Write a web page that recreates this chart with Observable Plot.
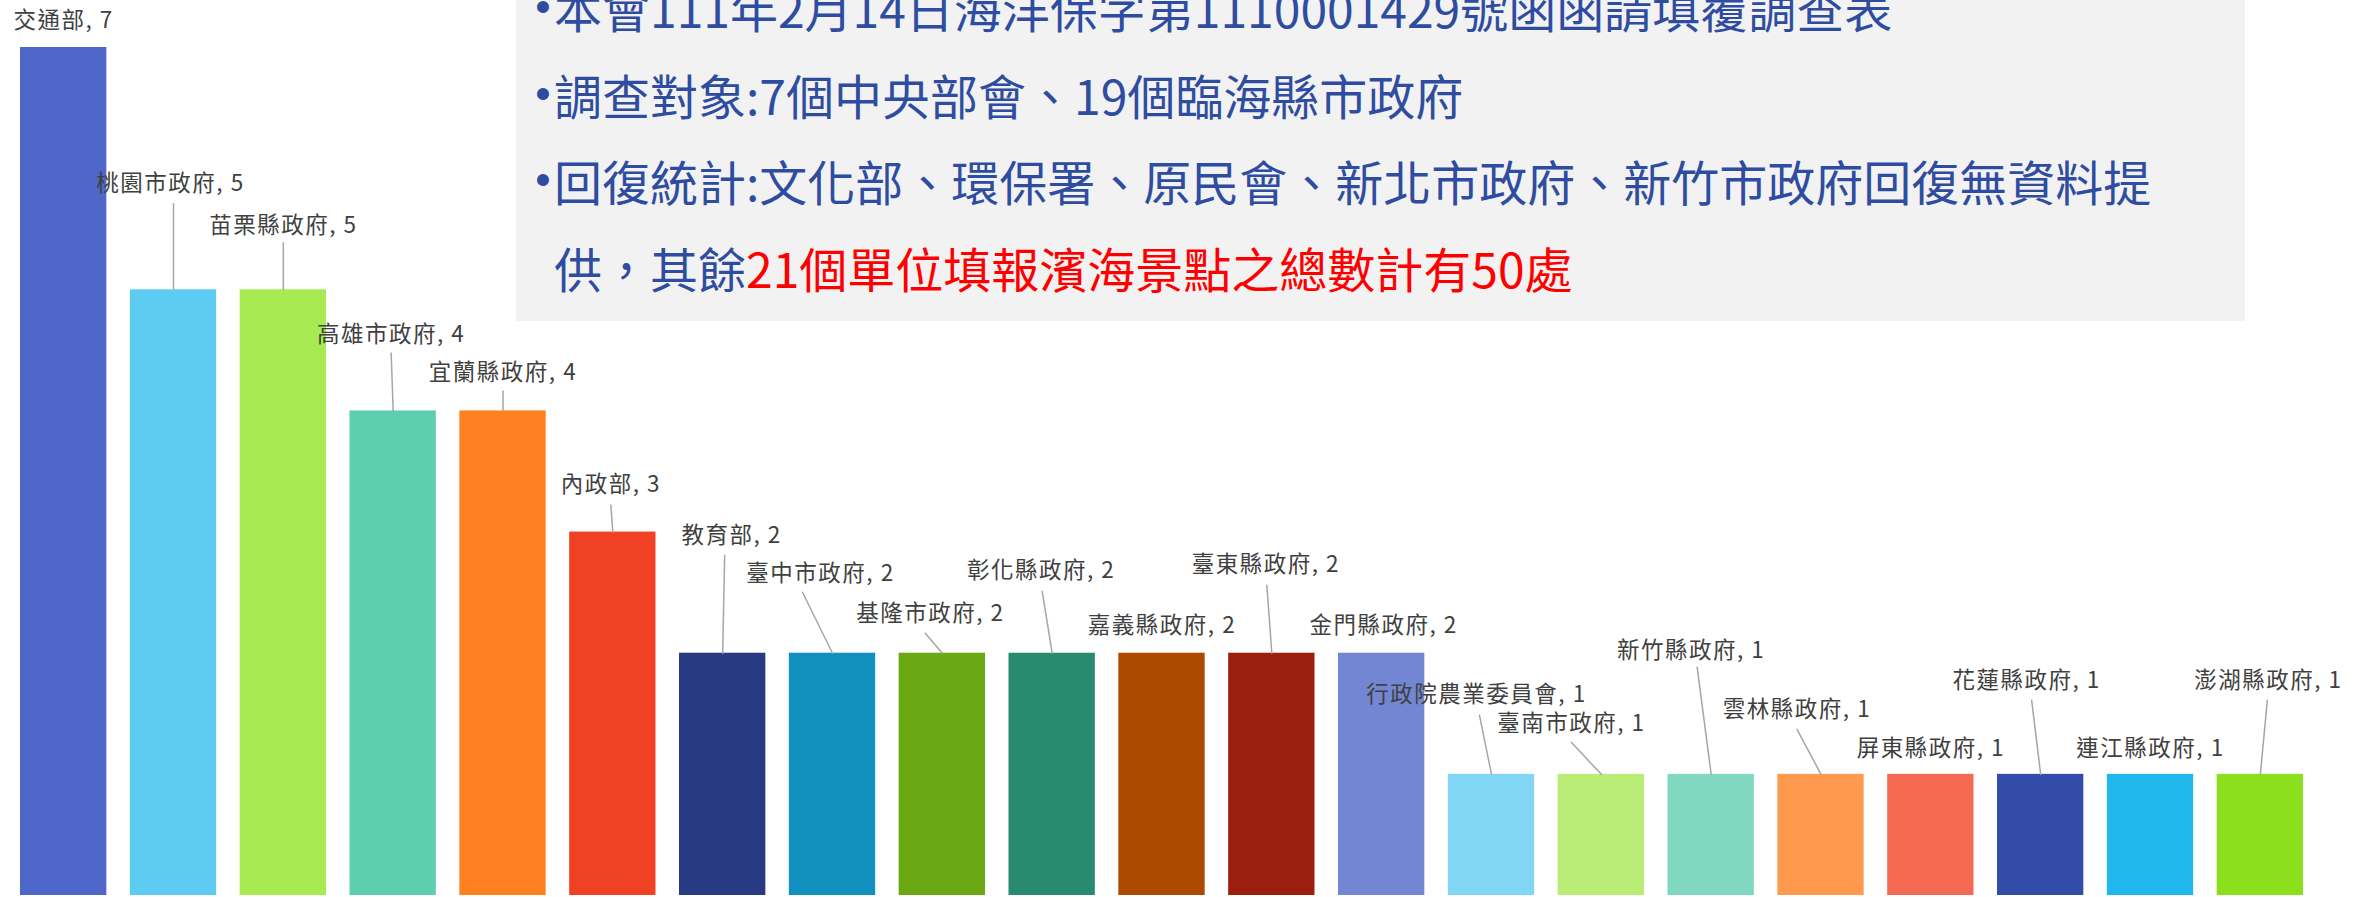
<!DOCTYPE html>
<html><head><meta charset="utf-8">
<script src="https://cdn.jsdelivr.net/npm/d3@7"></script>
<script src="https://cdn.jsdelivr.net/npm/@observablehq/plot@0.6"></script>
<style>
html,body{margin:0;padding:0;background:#fff;overflow:hidden}
#wrap{position:relative;width:2374px;height:897px}
#chart{position:absolute;left:0;top:0}
#box{position:absolute;left:516px;top:0;width:1729px;height:321px;background:#f2f2f2;font-family:"Noto Sans CJK TC";font-size:48px;color:#2f4da0;overflow:hidden}
.ln{position:absolute;left:38px;white-space:nowrap;line-height:60px;height:60px}
.bul{position:absolute;left:-11px;transform:translateX(-50%);font-family:"Liberation Sans";font-size:44px}
.red{color:#ff0000}
#chart svg text{letter-spacing:1.5px}
</style></head>
<body><div id="wrap"><div id="chart"></div><div id="box"></div></div>
<script>
// ---- data ----
const names = ["交通部","桃園市政府","苗栗縣政府","高雄市政府","宜蘭縣政府","內政部","教育部","臺中市政府","基隆市政府","彰化縣政府","嘉義縣政府","臺東縣政府","金門縣政府","行政院農業委員會","臺南市政府","新竹縣政府","雲林縣政府","屏東縣政府","花蓮縣政府","連江縣政府","澎湖縣政府"];
const values = [7,5,5,4,4,3,2,2,2,2,2,2,2,1,1,1,1,1,1,1,1];

// ---- styles ----
const colors = ["#4e67c8","#5ecbf3","#a7ea52","#5dceaf","#ff8021","#f14124","#273a82","#1190bd","#6aa914","#288a6f","#ad4900","#9b1f0c","#7286d3","#80d6f4","#b9ed77","#80d8c1","#ff994d","#f46a52","#344ca9","#20b8ec","#8cdf1c"];

// ---- label layout (pixel offsets from bar top centre) ----
const labelDx = [0,-3,0,-2,0,-2,9,-12,-12,-11,0,-6,2,-15,-30,-20,-24,0,-14,0,8];
const labelDy = [-27,-106,-64,-76,-38,-47,-117,-79,-39,-82,-27,-88,-27,-80,-51,-124,-65,-26,-94,-26,-94];
const leaderDx = [null,0,0,-2,0,-2,2,-30,-17,-10,null,-5,null,-12,-30,-14,-24,null,-9,null,7];
const leaderDy = [null,-86,-47,-58,-20,-27,-98,-61,-20,-62,null,-68,null,-59,-32,-107,-45,null,-74,null,-74];

// ---- note box text ----
const noteLines = [
  [["•本會111年2月14日海洋保字第1110001429號函函請填覆調查表", ""]],
  [["•調查對象:7個中央部會、19個臨海縣市政府", ""]],
  [["•回復統計:文化部、環保署、原民會、新北市政府、新竹市政府回復無資料提", ""]],
  [["供，其餘", ""], ["21個單位填報濱海景點之總數計有50處", "red"]]
];
const noteTops = [-23, 64, 150, 237];

const data = names.map((name, i) => ({name, value: values[i]}));
const marks = [Plot.barY(data, {x: "name", y: "value", fill: "name"})];
data.forEach((d, i) => {
  if (leaderDx[i] !== null) {
    const lx = leaderDx[i], ly = leaderDy[i];
    marks.push(Plot.vector([d], {
      x: "name", y: "value", anchor: "start",
      length: Math.hypot(lx, ly),
      rotate: Math.atan2(lx, -ly) * 180 / Math.PI,
      r: 0, stroke: "#a6a6a6", strokeWidth: 1.5
    }));
  }
  marks.push(Plot.text([d], {
    x: "name", y: "value", dx: labelDx[i], dy: labelDy[i],
    text: d => `${d.name}, ${d.value}`,
    fill: "#404040", fontSize: 22.5, fontFamily: "Noto Sans CJK TC", lineAnchor: "middle"
  }));
});

const chart = Plot.plot({
  width: 2374, height: 897,
  marginTop: 47, marginBottom: 2, marginLeft: 20, marginRight: 71,
  x: {domain: names, paddingInner: 0.214, paddingOuter: 0, round: false, axis: null},
  y: {domain: [0, 7], axis: null},
  color: {domain: names, range: colors},
  style: {background: "transparent", fontFamily: "Noto Sans CJK TC", overflow: "visible"},
  marks
});
document.getElementById("chart").appendChild(chart);

const box = document.getElementById("box");
noteLines.forEach((parts, k) => {
  const div = document.createElement("div");
  div.className = "ln";
  div.style.top = noteTops[k] + "px";
  parts.forEach(([txt, cls]) => {
    if (txt.startsWith("•")) {
      const b = document.createElement("span");
      b.className = "bul"; b.textContent = "•";
      div.appendChild(b);
      txt = txt.slice(1);
    }
    const s = document.createElement("span");
    if (cls) s.className = cls;
    s.textContent = txt;
    div.appendChild(s);
  });
  box.appendChild(div);
});
</script>
</body></html>
